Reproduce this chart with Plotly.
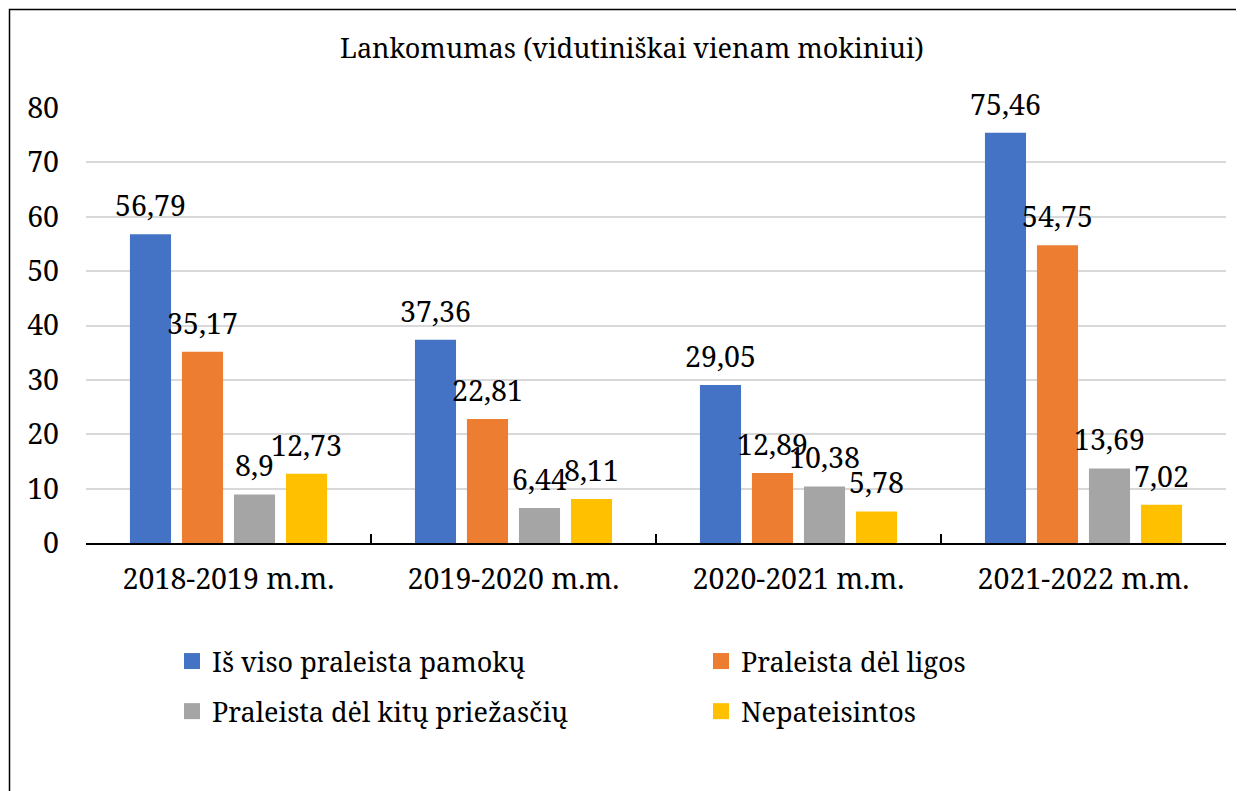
import plotly.graph_objects as go

categories = ["2018-2019 m.m.", "2019-2020 m.m.", "2020-2021 m.m.", "2021-2022 m.m."]
series_names = ["Iš viso praleista pamokų", "Praleista dėl ligos",
                "Praleista dėl kitų priežasčių", "Nepateisintos"]
total = [56.79, 37.36, 29.05, 75.46]
illness = [35.17, 22.81, 12.89, 54.75]
other = [8.9, 6.44, 10.38, 13.69]
unjustified = [12.73, 8.11, 5.78, 7.02]
colors = ["#4472C4", "#ED7D31", "#A5A5A5", "#FFC000"]
title_text = "Lankomumas (vidutiniškai vienam mokiniui)"

W, H = 1244, 791
OFF = 8  # page body margin offset
ML, MR, MT, MB = 86 - OFF, 18 + OFF, 108 - OFF, 248 + OFF
FONT = "Noto Serif, DejaVu Serif, serif"
FS = 28.5
FS_TITLE = 27
FS_LEGEND = 27
BARGAP = 0.27

def fmt(v):
    s = ("%.2f" % v).rstrip("0").rstrip(".")
    return s.replace(".", ",")

pw = W - ML - MR
ph = H - MT - MB
def px_x(p):
    return (p - OFF - ML) / pw
def px_y(p):
    return (H - MB - (p - OFF)) / ph

fig = go.Figure()
all_series = [total, illness, other, unjustified]
for i, (name, vals, col) in enumerate(zip(series_names, all_series, colors)):
    fig.add_trace(go.Bar(
        x=categories, y=vals, name=name, offsetgroup=str(i),
        marker=dict(color=col, line=dict(width=0)),
        showlegend=False, hoverinfo="x+y+name",
    ))
# data labels, grouped exactly like the bars
for i, (name, vals, col) in enumerate(zip(series_names, all_series, colors)):
    fig.add_trace(go.Scatter(
        x=categories, y=vals, name=name, offsetgroup=str(i), mode="markers+text",
        marker=dict(size=16, opacity=0, color=col),
        text=[fmt(v) for v in vals], textposition="top center",
        textfont=dict(family=FONT, size=FS, color="black"),
        cliponaxis=False, showlegend=False, hoverinfo="skip",
    ))
# legend swatches (on a hidden overlay axis so they don't join the grouping)
for i, (name, col) in enumerate(zip(series_names, colors)):
    fig.add_trace(go.Scatter(
        x=[None], y=[None], name=name, mode="markers", xaxis="x2", yaxis="y2",
        marker=dict(symbol="square", size=16, color=col, line=dict(width=0)),
        legend="legend" if i % 2 == 0 else "legend2", legendgroup="g%d" % i,
        showlegend=True,
    ))

legend_common = dict(orientation="v", xanchor="left", yanchor="top", yref="paper",
                     tracegroupgap=12, bgcolor="rgba(0,0,0,0)",
                     font=dict(family=FONT, size=FS_LEGEND, color="black"), itemclick=False)

fig.update_layout(
    width=W, height=H,
    margin=dict(l=ML, r=MR, t=MT, b=MB, autoexpand=False),
    paper_bgcolor="white", plot_bgcolor="white",
    font=dict(family=FONT, size=FS, color="black"),
    barmode="group", bargap=BARGAP, bargroupgap=0.21,
    scattermode="group", scattergap=BARGAP,
    title=dict(text=title_text, x=(632 - OFF) / W, xanchor="center",
               y=1 - (49 - OFF) / H, yanchor="middle",
               font=dict(family=FONT, size=FS_TITLE, color="black")),
    showlegend=True,
    legend=dict(x=px_x(172), y=px_y(637), **legend_common),
    legend2=dict(x=px_x(701), y=px_y(637), **legend_common),
    xaxis2=dict(visible=False, overlaying="x", range=[0, 1]),
    yaxis2=dict(visible=False, overlaying="y", range=[0, 1]),
    shapes=[dict(type="rect", xref="paper", yref="paper",
                 x0=px_x(9.5), x1=px_x(1260), y0=px_y(830), y1=px_y(9.5),
                 line=dict(color="black", width=1.5), fillcolor="rgba(0,0,0,0)", layer="below")],
    xaxis=dict(showline=True, linecolor="black", linewidth=2, ticks="inside", ticklen=9,
               tickcolor="black", tickwidth=1.5, tickson="boundaries", showgrid=False,
               tickfont=dict(family=FONT, size=FS), ticklabelstandoff=10),
    yaxis=dict(range=[0, 80], dtick=10, showgrid=True, gridcolor="#D9D9D9", gridwidth=1.5,
               zeroline=False, showline=False, ticks="", tickfont=dict(family=FONT, size=FS),
               ticklabelstandoff=26),
)

fig.write_html("out.html")
